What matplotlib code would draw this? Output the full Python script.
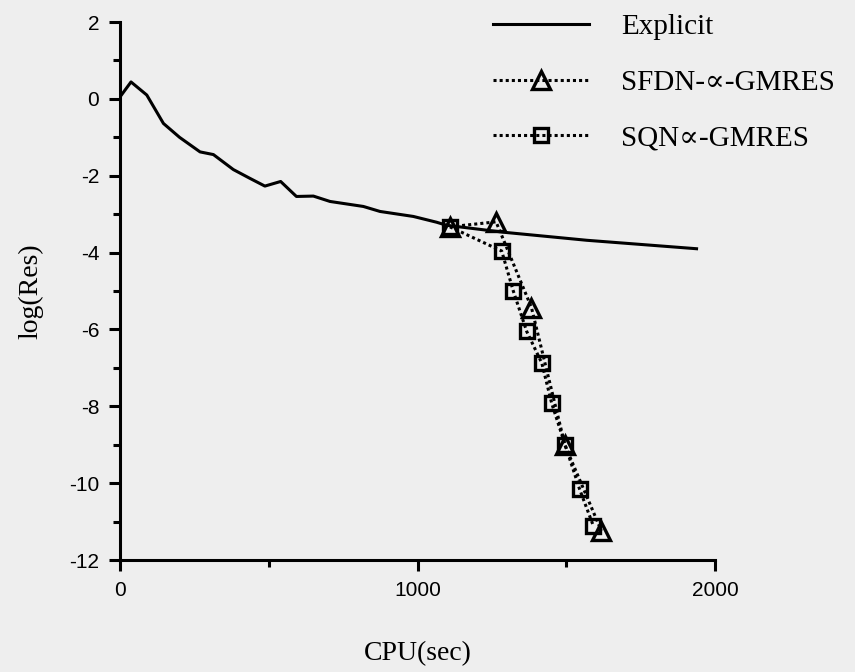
import matplotlib
matplotlib.use("Agg")
import matplotlib.pyplot as plt
from matplotlib.ticker import MultipleLocator

plt.rcParams["axes.unicode_minus"] = False

# data
explicit_cpu = [0, 37, 90, 146, 200, 269, 314, 381, 437, 487, 540, 593, 650,
                706, 818, 874, 986, 1064, 1098, 1288, 1569, 1938]
explicit_res = [0.05, 0.44, 0.10, -0.64, -1.0, -1.38, -1.45, -1.84, -2.07, -2.27,
                -2.15, -2.54, -2.53, -2.67, -2.80, -2.93, -3.06, -3.21, -3.29,
                -3.47, -3.68, -3.90]

sfdn_cpu = [1109, 1264, 1383, 1496, 1618]
sfdn_res = [-3.33, -3.20, -5.43, -9.02, -11.24]

sqn_cpu = [1109, 1283, 1322, 1367, 1418, 1451, 1496, 1545, 1591]
sqn_res = [-3.33, -3.96, -5.00, -6.05, -6.88, -7.92, -9.00, -10.16, -11.11]

serif = ["Liberation Serif", "DejaVu Serif"]
sans = "Liberation Sans"
bg = "#eeeeee"

fig = plt.figure(figsize=(8.55, 6.72), dpi=100, facecolor=bg)
ax = fig.add_axes([120 / 855, 1 - 560 / 672, 595 / 855, 538 / 672])
ax.set_facecolor(bg)

ax.plot(explicit_cpu, explicit_res, color="black", lw=2.2, label="Explicit")
ax.plot(sfdn_cpu, sfdn_res, color="black", lw=2.2, dashes=(1, 1),
        marker="^", ms=13, mfc="none", mec="black", mew=2.4,
        label="SFDN-\u221d-GMRES")
ax.plot(sqn_cpu, sqn_res, color="black", lw=2.2, dashes=(1, 1),
        marker="s", ms=10, mfc="none", mec="black", mew=2.4,
        label="SQN\u221d-GMRES")

ax.set_xlim(0, 2000)
ax.set_ylim(-12, 2)
ax.spines["top"].set_visible(False)
ax.spines["right"].set_visible(False)
for s in ("left", "bottom"):
    ax.spines[s].set_linewidth(2.2)

ax.xaxis.set_major_locator(MultipleLocator(1000))
ax.xaxis.set_minor_locator(MultipleLocator(500))
ax.yaxis.set_major_locator(MultipleLocator(2))
ax.yaxis.set_minor_locator(MultipleLocator(1))
ax.tick_params(which="major", direction="out", length=8, width=2.2,
               labelsize=15, pad=7)
ax.tick_params(which="minor", direction="out", length=5, width=2.2)
for lab in ax.get_xticklabels() + ax.get_yticklabels():
    lab.set_family(sans)

ax.set_xlabel("CPU(sec)", family=serif, fontsize=20, labelpad=30)
ax.set_ylabel("log(Res)", family=serif, fontsize=20, labelpad=18)

ax.legend(loc="upper left", bbox_to_anchor=(493 / 855, 1 - 14 / 672),
          bbox_transform=fig.transFigure, frameon=False, borderpad=0,
          borderaxespad=0, handlelength=3.3, handletextpad=1.1,
          labelspacing=1.0, numpoints=1, prop={"family": serif, "size": 21})

fig.savefig("out.png", dpi=100, facecolor=bg)
